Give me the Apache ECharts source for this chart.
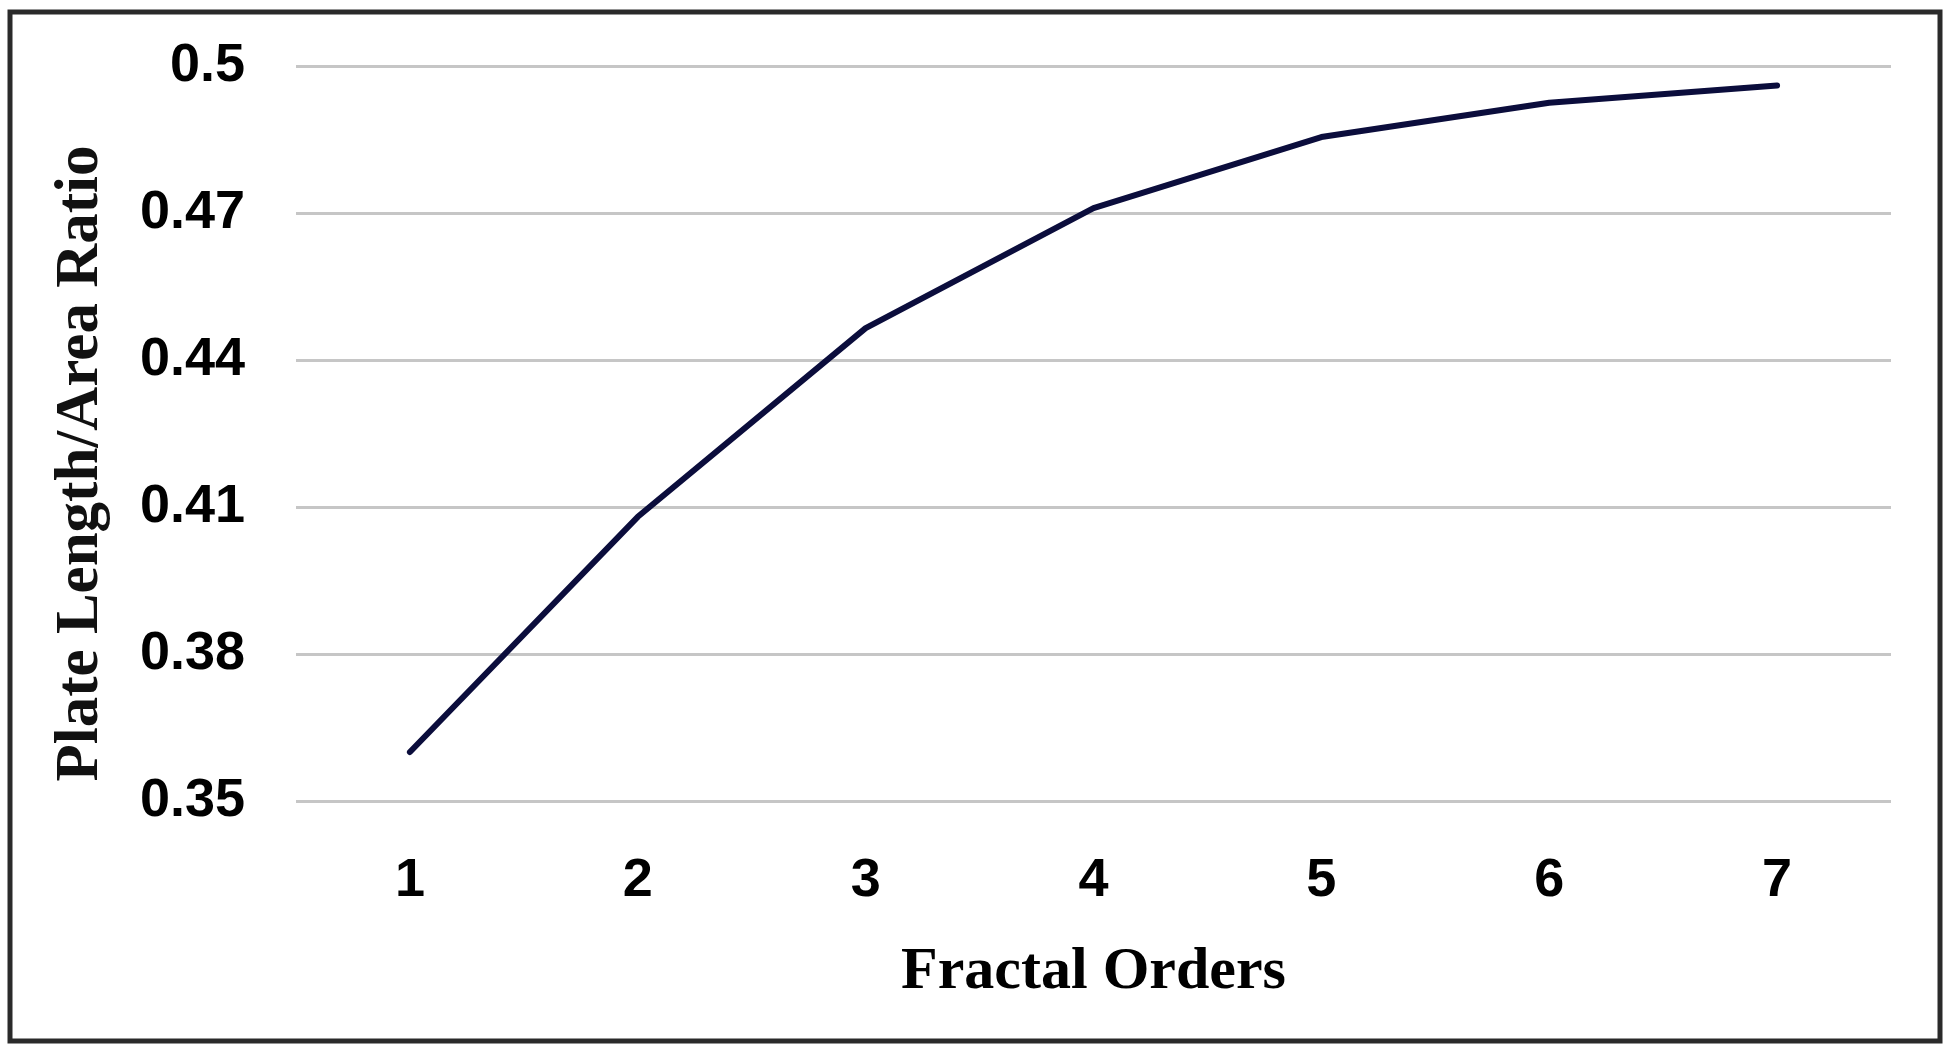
<!DOCTYPE html>
<html>
<head>
<meta charset="utf-8">
<script src="https://cdn.jsdelivr.net/npm/echarts@6/dist/echarts.min.js"></script>
<style>
html,body{margin:0;padding:0;background:#fff;}
#chart{width:1951px;height:1055px;}
</style>
</head>
<body>
<div id="chart"></div>
<script>
const categories = ['1', '2', '3', '4', '5', '6', '7'];
const ratioValues = [0.36, 0.408, 0.4465, 0.471, 0.4855, 0.4925, 0.496];
const yTicks = [0.35, 0.38, 0.41, 0.44, 0.47, 0.5];
const xAxisTitle = 'Fractal Orders';
const yAxisTitle = 'Plate Length/Area Ratio';

const chart = echarts.init(document.getElementById('chart'), null, {renderer: 'canvas'});
chart.setOption({
  backgroundColor: '#ffffff',
  animation: false,
  graphic: [{
    type: 'rect',
    shape: {x: 10, y: 12, width: 1930, height: 1029},
    style: {fill: 'none', stroke: '#2a2a2a', lineWidth: 5},
    silent: true
  }],
  grid: {left: 296, right: 60, top: 66, bottom: 254, containLabel: false},
  xAxis: {
    type: 'category',
    data: categories,
    boundaryGap: true,
    axisLine: {show: false},
    axisTick: {show: false},
    axisLabel: {
      margin: 53,
      fontFamily: 'Liberation Sans',
      fontWeight: 'bold',
      fontSize: 54,
      color: '#000'
    },
    name: xAxisTitle,
    nameLocation: 'middle',
    nameGap: 141,
    nameTextStyle: {
      fontFamily: 'Liberation Serif',
      fontWeight: 'bold',
      fontSize: 60,
      color: '#000'
    }
  },
  yAxis: {
    type: 'value',
    min: yTicks[0],
    max: yTicks[yTicks.length - 1],
    interval: 0.03,
    axisLine: {show: false},
    axisTick: {show: false},
    splitLine: {lineStyle: {color: '#c6c6c6', width: 3}},
    axisLabel: {
      margin: 51,
      fontFamily: 'Liberation Sans',
      fontWeight: 'bold',
      fontSize: 54,
      color: '#000',
      formatter: function (v) { return String(parseFloat(v.toFixed(2))); }
    },
    name: yAxisTitle,
    nameLocation: 'middle',
    nameGap: 184,
    nameRotate: 90,
    nameTextStyle: {
      fontFamily: 'Liberation Serif',
      fontWeight: 'bold',
      fontSize: 61,
      color: '#111',
      padding: [0, 60, 0, 0]
    }
  },
  series: [{
    type: 'line',
    data: ratioValues,
    showSymbol: false,
    symbol: 'none',
    smooth: false,
    lineStyle: {color: '#0b0d3c', width: 6, cap: 'round', join: 'round'}
  }]
});
</script>
</body>
</html>
